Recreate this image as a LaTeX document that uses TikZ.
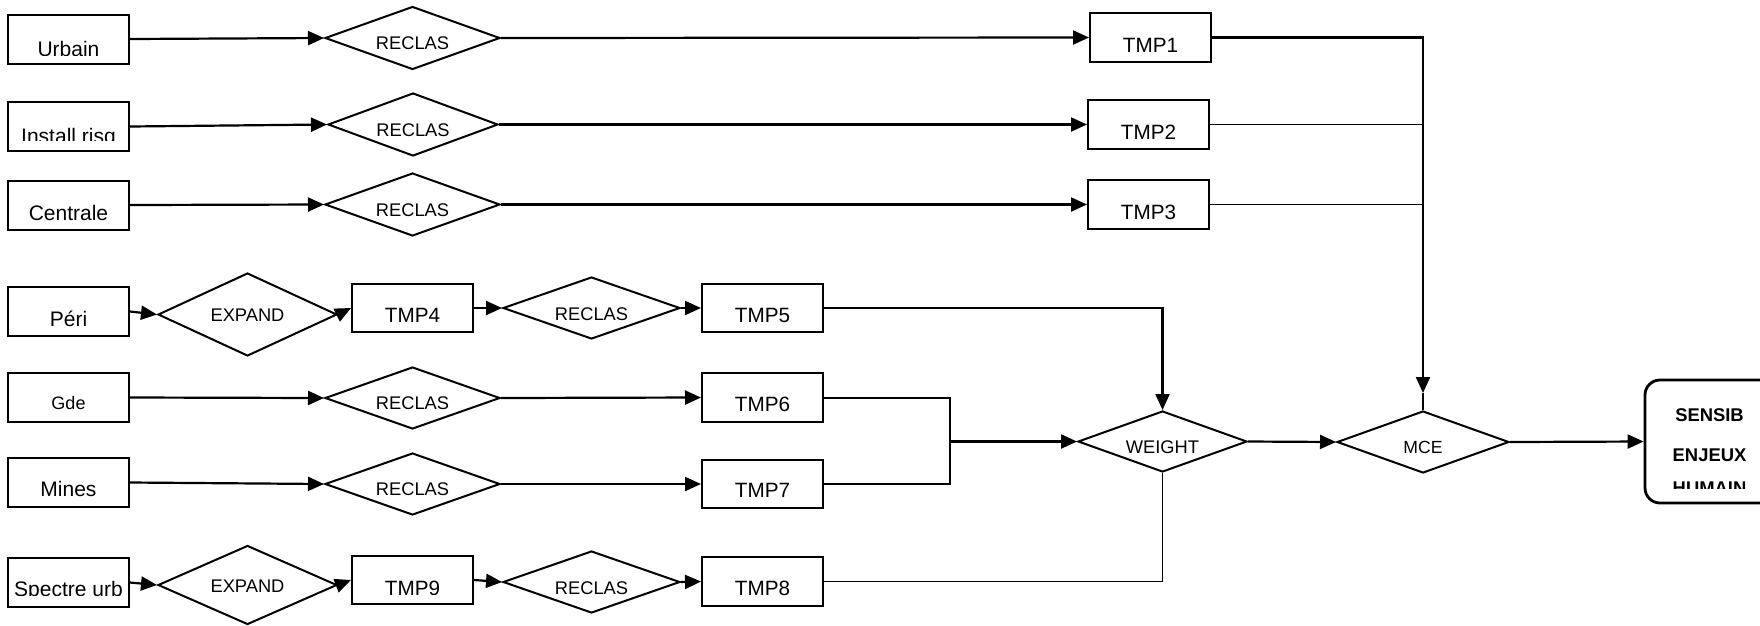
\documentclass[tikz,border=0pt]{standalone}
\usepackage{fontspec}
\setmainfont{Liberation Sans}
\usetikzlibrary{arrows.meta,shapes.geometric}

\newcommand{\boxlabel}[6]{%
  \begin{scope}
    \clip ([xshift=-60pt]#2.north west) rectangle ([xshift=60pt,yshift=#4pt]#2.south east);
    \node[#5, anchor=base] (#1) at ([yshift=-#3pt]#2.center) {#6};
  \end{scope}}

\tikzset{
  rbox/.style={draw, line width=2pt, minimum width=121pt, minimum height=49pt, inner sep=0pt},
  dmd/.style={diamond, draw, line width=2pt, inner sep=0pt},
  lbl/.style={inner sep=0pt, font=\fontsize{21}{24}\selectfont},
  glbl/.style={inner sep=0pt, font=\fontsize{18}{21}\selectfont},
  tlbl/.style={inner sep=0pt, font=\fontsize{20.7}{24}\selectfont},
  dlbl/.style={inner sep=0pt, font=\fontsize{18.3}{22}\selectfont},
  mlbl/.style={inner sep=0pt, font=\fontsize{17.6}{21}\selectfont},
  blbl/.style={inner sep=0pt, font=\bfseries\fontsize{18.4}{22}\selectfont},
  conn/.style={line width=2.2pt, -{Triangle[length=16pt,width=14pt]}},
  plain/.style={line width=2.2pt},
  thin/.style={line width=1.9pt},
  mid/.style={line width=2pt},
}

\begin{document}
\begin{tikzpicture}[x=1pt, y=-1pt]
\useasboundingbox (0,0) rectangle (1760,625);
\clip (0,0) rectangle (1760,625);

% left input boxes
\node[rbox] (urbain)   at (68.5,39)    {};
\node[rbox] (install)  at (68.5,126.5) {};
\node[rbox] (centrale) at (68.5,205)   {};
\node[rbox] (peri)     at (68.5,311.5) {};
\node[rbox] (gde)      at (68.5,397.5) {};
\node[rbox] (mines)    at (68.5,482.5) {};
\node[rbox] (spectre)  at (68.5,582.5) {};

% diamonds
\node[dmd, minimum width=175pt, minimum height=63pt] (r1) at (412.5,38) {};
\node[dmd, minimum width=170pt, minimum height=63pt] (r2) at (413,124.5) {};
\node[dmd, minimum width=175pt, minimum height=63pt] (r3) at (412.5,204.5) {};
\node[dmd, minimum width=179pt, minimum height=83pt] (e1) at (247.5,314.5) {};
\node[dmd, minimum width=177pt, minimum height=62pt] (r4) at (591.5,308) {};
\node[dmd, minimum width=175pt, minimum height=62pt] (r5) at (412.5,398) {};
\node[dmd, minimum width=175pt, minimum height=62pt] (r6) at (412.5,484) {};
\node[dmd, minimum width=179pt, minimum height=79pt] (e2) at (247.5,585) {};
\node[dmd, minimum width=177pt, minimum height=62pt] (r7) at (591.5,582) {};
\node[dmd, minimum width=169pt, minimum height=61pt] (weight) at (1162.5,441.5) {};
\node[dmd, minimum width=172pt, minimum height=62pt] (mce) at (1423,442) {};

% TMP boxes
\node[rbox] (tmp1) at (1150.5,37.5) {};
\node[rbox] (tmp2) at (1148.5,124.5) {};
\node[rbox] (tmp3) at (1148.5,204.5) {};
\node[rbox, minimum height=48pt] (tmp4) at (412.5,308) {};
\node[rbox, minimum height=48pt] (tmp5) at (762.5,308) {};
\node[rbox] (tmp6) at (762.5,397.5) {};
\node[rbox, minimum height=48pt] (tmp7) at (762.5,484) {};
\node[rbox] (tmp8) at (762.5,581.5) {};
\node[rbox, minimum height=48pt] (tmp9) at (412.5,580) {};

% output
\node[draw, line width=2.8pt, rounded corners=15pt, minimum width=130pt, minimum height=123pt, inner sep=0pt] (sensib) at (1710,441.5) {};

% box labels
\boxlabel{urbain-t}{urbain}{17}{9}{lbl}{Urbain}
\boxlabel{install-t}{install}{16.8}{11.7}{lbl}{Install risq}
\boxlabel{centrale-t}{centrale}{15.8}{10.5}{lbl}{Centrale}
\boxlabel{peri-t}{peri}{15}{8}{lbl}{Péri}
\boxlabel{gde-t}{gde}{11.5}{8}{glbl}{Gde}
\boxlabel{mines-t}{mines}{14}{8}{lbl}{Mines}
\boxlabel{spectre-t}{spectre}{14}{12.7}{lbl}{Spectre urb}
\boxlabel{tmp1-t}{tmp1}{15}{8}{tlbl}{TMP1}
\boxlabel{tmp2-t}{tmp2}{15}{8}{tlbl}{TMP2}
\boxlabel{tmp3-t}{tmp3}{14.5}{11}{tlbl}{TMP3}
\boxlabel{tmp4-t}{tmp4}{14.7}{8}{tlbl}{TMP4}
\boxlabel{tmp5-t}{tmp5}{14.7}{8}{tlbl}{TMP5}
\boxlabel{tmp6-t}{tmp6}{14}{12}{tlbl}{TMP6}
\boxlabel{tmp7-t}{tmp7}{13.7}{8}{tlbl}{TMP7}
\boxlabel{tmp8-t}{tmp8}{13.5}{8}{tlbl}{TMP8}
\boxlabel{tmp9-t}{tmp9}{15}{11}{tlbl}{TMP9}

% diamond labels
\node[dlbl, anchor=base] (r1-t) at ([yshift=-11.5pt]r1.center) {RECLAS};
\node[dlbl, anchor=base] (r2-t) at ([yshift=-11.5pt]r2.center) {RECLAS};
\node[dlbl, anchor=base] (r3-t) at ([yshift=-11.5pt]r3.center) {RECLAS};
\node[dlbl, anchor=base] (e1-t) at ([yshift=-6.5pt]e1.center) {EXPAND};
\node[dlbl, anchor=base] (r4-t) at ([yshift=-12.5pt]r4.center) {RECLAS};
\node[dlbl, anchor=base] (r5-t) at ([yshift=-11pt]r5.center) {RECLAS};
\node[dlbl, anchor=base] (r6-t) at ([yshift=-11.5pt]r6.center) {RECLAS};
\node[dlbl, anchor=base] (e2-t) at ([yshift=-7pt]e2.center) {EXPAND};
\node[dlbl, anchor=base] (r7-t) at ([yshift=-12pt]r7.center) {RECLAS};
\node[dlbl, anchor=base] (weight-t) at ([yshift=-11.5pt]weight.center) {WEIGHT};
\node[mlbl, anchor=base] (mce-t) at ([yshift=-11pt]mce.center) {MCE};

% output labels
\node[blbl, anchor=base] (sensib-t1) at ([xshift=-0.5pt,yshift=19.8pt]sensib.center) {SENSIB};
\node[blbl, anchor=base] (sensib-t2) at ([xshift=-0.5pt,yshift=-20.2pt]sensib.center) {ENJEUX};
\begin{scope}
  \clip (1640,380) rectangle (1760,488);
  \node[blbl, anchor=base] (sensib-t3) at ([xshift=-0.5pt,yshift=-53pt]sensib.center) {HUMAIN};
\end{scope}

% connectors
\coordinate (mcein) at (1423,393);
\coordinate (wj) at (950,441.5);

\draw[conn] (urbain.east) -- (r1.west);
\draw[conn] (r1.east) -- (tmp1.west);
\draw[conn] (tmp1.east) -| (mcein);
\draw[plain] (mcein) -- (mce.north);

\draw[conn] (install.east) -- (r2.west);
\draw[conn] (r2.east) -- (tmp2.west);
\draw[thin] (tmp2.east) -- (tmp2.east -| mcein);

\draw[conn] (centrale.east) -- (r3.west);
\draw[conn] (r3.east) -- (tmp3.west);
\draw[thin] (tmp3.east) -- (tmp3.east -| mcein);

\draw[conn] (peri.east) -- (e1.west);
\draw[conn] (e1.east) -- (tmp4.west);
\draw[conn] (tmp4.east) -- (r4.west);
\draw[conn] (r4.east) -- (tmp5.west);
\draw[conn] (tmp5.east) -| (weight.north);

\draw[conn] (gde.east) -- (r5.west);
\draw[conn] (r5.east) -- (tmp6.west);
\draw[mid] (tmp6.east) -| (wj);

\draw[conn] (mines.east) -- (r6.west);
\draw[conn] (r6.east) -- (tmp7.west);
\draw[mid] (tmp7.east) -| (wj);
\draw[conn] (wj) -- (weight.west);

\draw[conn] (spectre.east) -- (e2.west);
\draw[conn] (e2.east) -- (tmp9.west);
\draw[conn] (tmp9.east) -- (r7.west);
\draw[conn] (r7.east) -- (tmp8.west);
\draw[thin] (tmp8.east) -| (weight.south);

\draw[conn] (weight.east) -- (mce.west);
\draw[conn] (mce.east) -- (sensib.west);
\end{tikzpicture}
\end{document}
